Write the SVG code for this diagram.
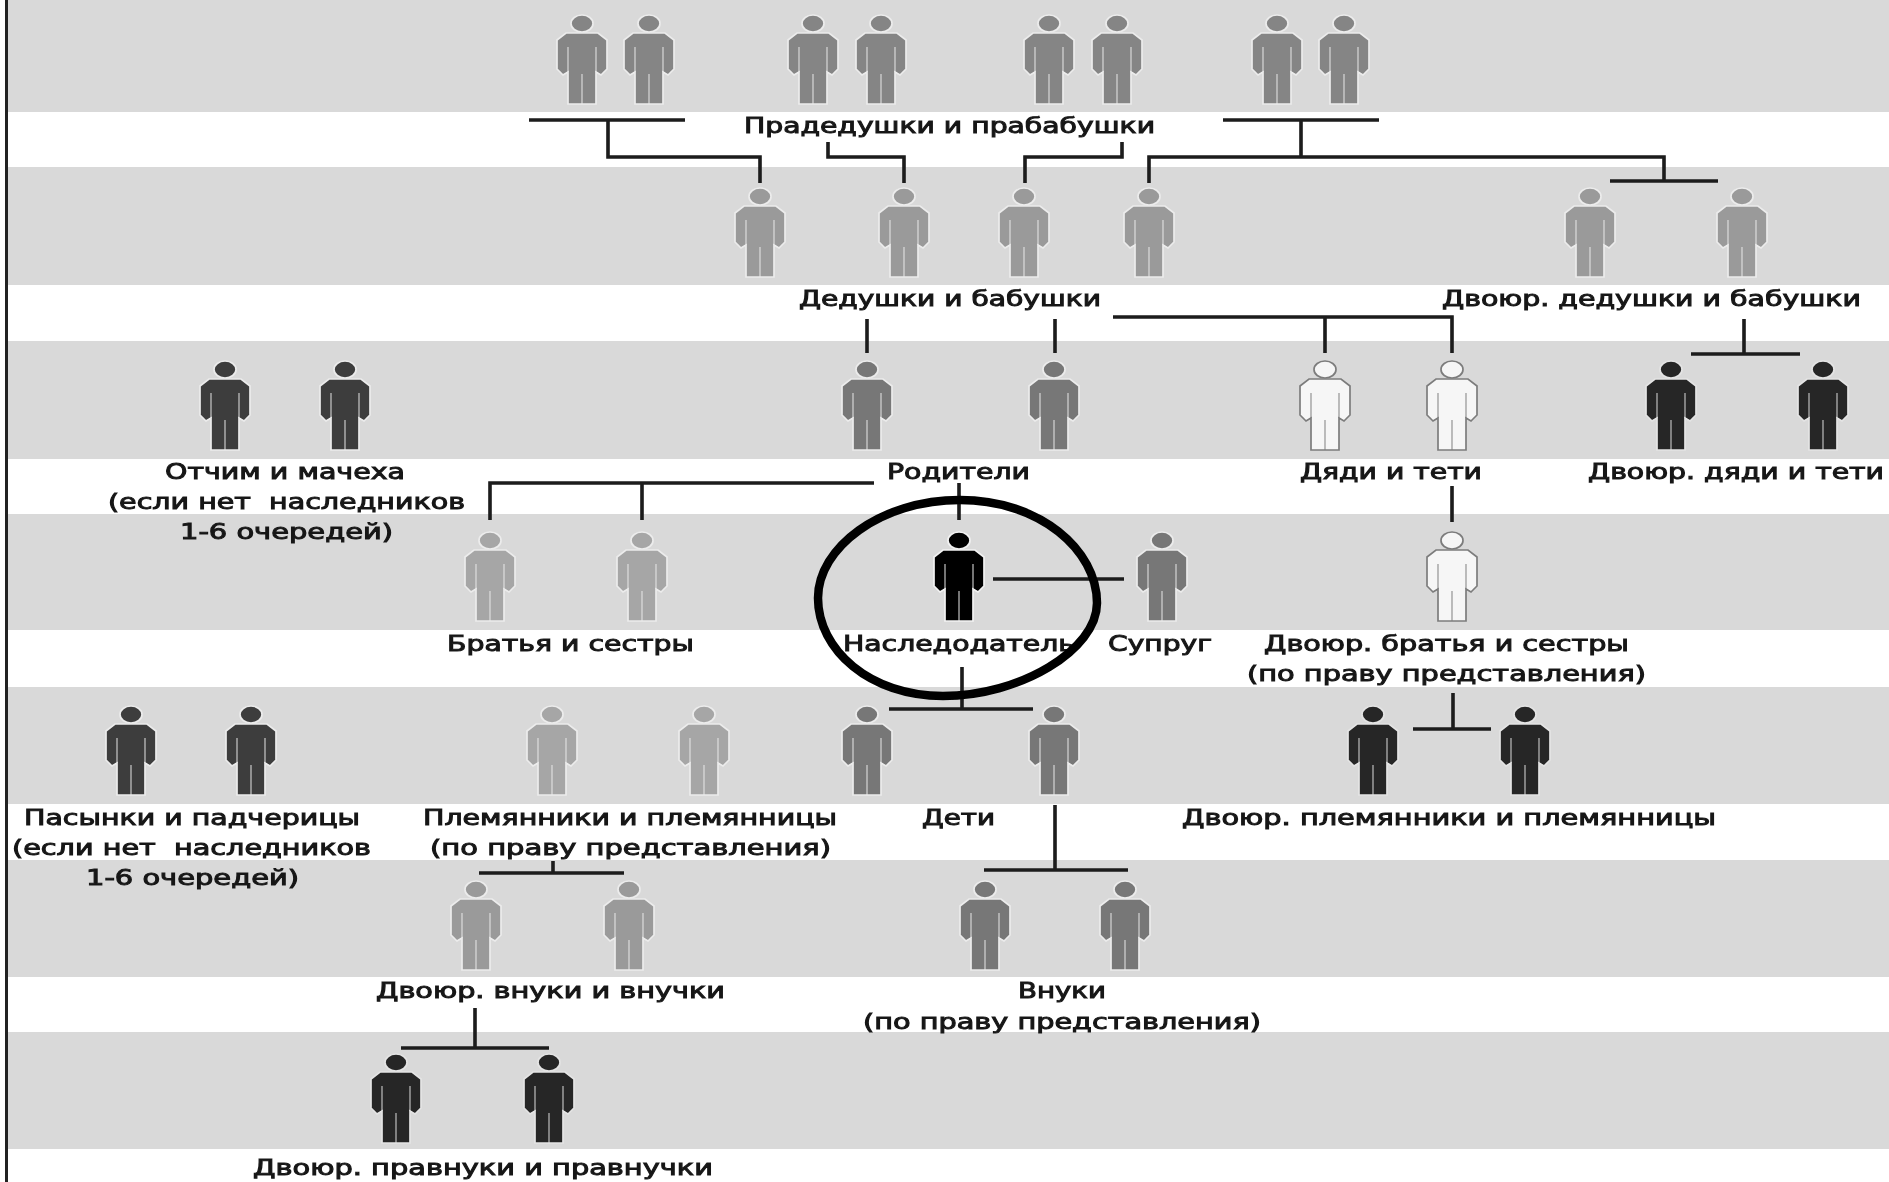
<svg xmlns="http://www.w3.org/2000/svg" width="1889" height="1182" viewBox="0 0 1889 1182">
<style>
.band{fill:#d9d9d9}
.c{fill:none;stroke:#1c1c1c;stroke-width:3.6}
text{font-family:"DejaVu Sans","Liberation Sans",sans-serif;font-size:21px;fill:#181818;stroke:#181818;stroke-width:.95;white-space:pre}
.a{fill:#858585;stroke:#ececec}
.b{fill:#9a9a9a;stroke:#ececec}
.m{fill:#777;stroke:#ececec}
.d{fill:#3d3d3d;stroke:#ececec}
.k{fill:#262626;stroke:#e4e4e4}
.x{fill:#000;stroke:#f2f2f2}
.w{fill:#f6f6f6;stroke:#7c7c7c}
.l{fill:#a6a6a6;stroke:#ececec}
.in{fill:none;stroke-width:1.6;stroke-opacity:.6}
</style>
<defs>
<g id="p" stroke-width="1.7">
<ellipse cx="0" cy="8.5" rx="11" ry="8.5"/>
<path d="M-16,18H16L25,25V54L19,60L14,57V89H-14V57L-19,60L-25,54V25Z"/>
<path class="in" d="M-14,32V57M14,32V57M0,59V89"/>
</g>
<filter id="soft" x="0" y="0" width="1" height="1"><feGaussianBlur stdDeviation="0.55"/></filter>
</defs>
<rect width="1889" height="1182" fill="#fff"/>
<g filter="url(#soft)">
<g id="bands">
<rect class="band" x="8" y="0" width="1881" height="112"/>
<rect class="band" x="8" y="167" width="1881" height="118"/>
<rect class="band" x="8" y="341" width="1881" height="118"/>
<rect class="band" x="8" y="514" width="1881" height="116"/>
<rect class="band" x="8" y="687" width="1881" height="117"/>
<rect class="band" x="8" y="860" width="1881" height="117"/>
<rect class="band" x="8" y="1032" width="1881" height="117"/>
<rect x="5" y="0" width="3" height="1182" fill="#222"/>
</g>
<g id="connectors">
<path class="c" d="M529,120H685M608,120V157H760V183"/>
<path class="c" d="M828,142V157H904V183"/>
<path class="c" d="M1122,142V157H1025V183"/>
<path class="c" d="M1223,120H1379M1301,120V157M1149,183V157H1664V181M1610,181H1718"/>
<path class="c" d="M867,319V353"/>
<path class="c" d="M1055,319V353"/>
<path class="c" d="M1113,317H1452V353M1325,317V353"/>
<path class="c" d="M1744,319V354M1691,354H1800"/>
<path class="c" d="M874,483H490V520M642,483V520"/>
<path class="c" d="M959,483V520"/>
<path class="c" d="M993,579H1124"/>
<path class="c" d="M962,667V709M889,709H1033"/>
<path class="c" d="M1452,486V522"/>
<path class="c" d="M1453,693V729M1413,729H1491"/>
<path class="c" d="M1055,805V870M984,870H1128"/>
<path class="c" d="M553,861V873M479,873H624"/>
<path class="c" d="M475,1008V1048M401,1048H549"/>
</g>
<g id="n-great-grandparents">
<use href="#p" class="a" x="582" y="15"/><use href="#p" class="a" x="649" y="15"/><use href="#p" class="a" x="813" y="15"/><use href="#p" class="a" x="881" y="15"/><use href="#p" class="a" x="1049" y="15"/><use href="#p" class="a" x="1117" y="15"/><use href="#p" class="a" x="1277" y="15"/><use href="#p" class="a" x="1344" y="15"/>
<text x="744" y="133" textLength="411" lengthAdjust="spacingAndGlyphs">Прадедушки и прабабушки</text>
</g>
<g id="n-grandparents">
<use href="#p" class="b" x="760" y="188"/><use href="#p" class="b" x="904" y="188"/><use href="#p" class="b" x="1024" y="188"/><use href="#p" class="b" x="1149" y="188"/>
<text x="799" y="306" textLength="302" lengthAdjust="spacingAndGlyphs">Дедушки и бабушки</text>
</g>
<g id="n-cousin-grandparents">
<use href="#p" class="b" x="1590" y="188"/><use href="#p" class="b" x="1742" y="188"/>
<text x="1442" y="306" textLength="419" lengthAdjust="spacingAndGlyphs">Двоюр. дедушки и бабушки</text>
</g>
<g id="n-step-parents">
<use href="#p" class="d" x="225" y="361"/><use href="#p" class="d" x="345" y="361"/>
<text x="165" y="479" textLength="240" lengthAdjust="spacingAndGlyphs">Отчим и мачеха</text>
<text x="108" y="509" textLength="357" lengthAdjust="spacingAndGlyphs">(если нет  наследников</text>
<text x="180" y="539" textLength="213" lengthAdjust="spacingAndGlyphs">1-6 очередей)</text>
</g>
<g id="n-parents">
<use href="#p" class="m" x="867" y="361"/><use href="#p" class="m" x="1054" y="361"/>
<text x="887" y="479" textLength="143" lengthAdjust="spacingAndGlyphs">Родители</text>
</g>
<g id="n-uncles">
<use href="#p" class="w" x="1325" y="361"/><use href="#p" class="w" x="1452" y="361"/>
<text x="1300" y="479" textLength="182" lengthAdjust="spacingAndGlyphs">Дяди и тети</text>
</g>
<g id="n-cousin-uncles">
<use href="#p" class="k" x="1671" y="361"/><use href="#p" class="k" x="1823" y="361"/>
<text x="1588" y="479" textLength="296" lengthAdjust="spacingAndGlyphs">Двоюр. дяди и тети</text>
</g>
<g id="n-siblings">
<use href="#p" class="l" x="490" y="532"/><use href="#p" class="l" x="642" y="532"/>
<text x="447" y="651" textLength="247" lengthAdjust="spacingAndGlyphs">Братья и сестры</text>
</g>
<g id="n-testator">
<use href="#p" class="x" x="959" y="532"/>
<text x="843" y="651" textLength="232" lengthAdjust="spacingAndGlyphs">Наследодатель</text>
</g>
<g id="n-spouse">
<use href="#p" class="m" x="1162" y="532"/>
<text x="1108" y="651" textLength="104" lengthAdjust="spacingAndGlyphs">Супруг</text>
</g>
<g id="n-cousins">
<use href="#p" class="w" x="1452" y="532"/>
<text x="1264" y="651" textLength="365" lengthAdjust="spacingAndGlyphs">Двоюр. братья и сестры</text>
<text x="1247" y="681" textLength="399" lengthAdjust="spacingAndGlyphs">(по праву представления)</text>
</g>
<g id="n-step-children">
<use href="#p" class="d" x="131" y="706"/><use href="#p" class="d" x="251" y="706"/>
<text x="24" y="825" textLength="336" lengthAdjust="spacingAndGlyphs">Пасынки и падчерицы</text>
<text x="12" y="855" textLength="359" lengthAdjust="spacingAndGlyphs">(если нет  наследников</text>
<text x="86" y="885" textLength="213" lengthAdjust="spacingAndGlyphs">1-6 очередей)</text>
</g>
<g id="n-nephews">
<use href="#p" class="l" x="552" y="706"/><use href="#p" class="l" x="704" y="706"/>
<text x="423" y="825" textLength="414" lengthAdjust="spacingAndGlyphs">Племянники и племянницы</text>
<text x="430" y="855" textLength="401" lengthAdjust="spacingAndGlyphs">(по праву представления)</text>
</g>
<g id="n-children">
<use href="#p" class="m" x="867" y="706"/><use href="#p" class="m" x="1054" y="706"/>
<text x="922" y="825" textLength="73" lengthAdjust="spacingAndGlyphs">Дети</text>
</g>
<g id="n-cousin-nephews">
<use href="#p" class="k" x="1373" y="706"/><use href="#p" class="k" x="1525" y="706"/>
<text x="1182" y="825" textLength="534" lengthAdjust="spacingAndGlyphs">Двоюр. племянники и племянницы</text>
</g>
<g id="n-cousin-grandchildren">
<use href="#p" class="b" x="476" y="881"/><use href="#p" class="b" x="629" y="881"/>
<text x="376" y="998" textLength="349" lengthAdjust="spacingAndGlyphs">Двоюр. внуки и внучки</text>
</g>
<g id="n-grandchildren">
<use href="#p" class="m" x="985" y="881"/><use href="#p" class="m" x="1125" y="881"/>
<text x="1018" y="998" textLength="88" lengthAdjust="spacingAndGlyphs">Внуки</text>
<text x="863" y="1029" textLength="398" lengthAdjust="spacingAndGlyphs">(по праву представления)</text>
</g>
<g id="n-cousin-great-grandchildren">
<use href="#p" class="k" x="396" y="1054"/><use href="#p" class="k" x="549" y="1054"/>
<text x="253" y="1175" textLength="460" lengthAdjust="spacingAndGlyphs">Двоюр. правнуки и правнучки</text>
</g>
<path id="highlight" fill="none" stroke="#000" stroke-width="8.5" d="M818,598C818,548 880,500 960,500C1040,500 1097,550 1097,603C1097,650 1020,696 943,696C870,696 818,650 818,598Z"/>
</g>
</svg>
